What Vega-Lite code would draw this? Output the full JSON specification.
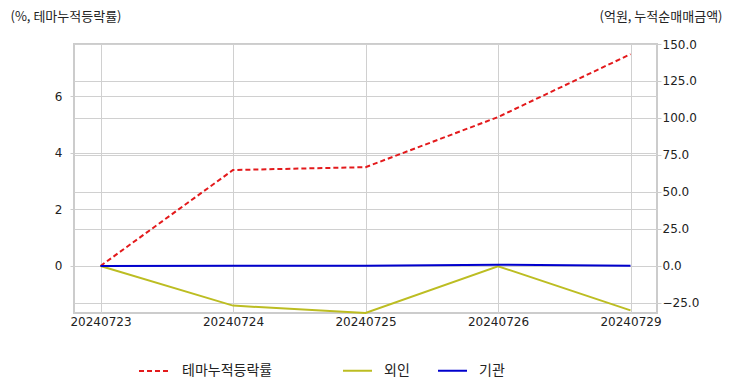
{
  "$schema": "https://vega.github.io/schema/vega-lite/v6.json",
  "autosize": {"type": "none"},
  "padding": {"left": 74, "top": 44, "right": 75, "bottom": 79},
  "width": 583,
  "height": 269,
  "background": "white",
  "config": {
    "font": "Noto Sans CJK KR",
    "view": {"stroke": "#cccccc", "strokeWidth": 2},
    "axis": {
      "labelFont": "DejaVu Sans",
      "labelFontSize": 12,
      "labelColor": "#222222",
      "gridColor": "#d0d0d0",
      "gridWidth": 1,
      "tickColor": "#cccccc",
      "domain": false,
      "titleFont": "Noto Sans CJK KR",
      "titleFontSize": 13,
      "titleFontWeight": "normal",
      "titleColor": "#222222"
    },
    "legend": {
      "labelFont": "Noto Sans CJK KR",
      "labelFontSize": 14,
      "labelColor": "#222222"
    }
  },
  "data": {
    "values": [
      {"date": "20240723", "series": "테마누적등락률", "value": 0},
      {"date": "20240724", "series": "테마누적등락률", "value": 3.39},
      {"date": "20240725", "series": "테마누적등락률", "value": 3.49},
      {"date": "20240726", "series": "테마누적등락률", "value": 5.26},
      {"date": "20240729", "series": "테마누적등락률", "value": 7.48},
      {"date": "20240723", "series": "외인", "value": 0},
      {"date": "20240724", "series": "외인", "value": -26.8},
      {"date": "20240725", "series": "외인", "value": -31.8},
      {"date": "20240726", "series": "외인", "value": -0.2},
      {"date": "20240729", "series": "외인", "value": -30.0},
      {"date": "20240723", "series": "기관", "value": 0},
      {"date": "20240724", "series": "기관", "value": 0.1},
      {"date": "20240725", "series": "기관", "value": 0.1},
      {"date": "20240726", "series": "기관", "value": 0.8},
      {"date": "20240729", "series": "기관", "value": 0.1}
    ]
  },
  "encoding": {
    "x": {
      "field": "date",
      "type": "ordinal",
      "scale": {"type": "point", "padding": 0.2},
      "axis": {
        "title": null,
        "labelAngle": 0,
        "grid": true,
        "ticks": false,
        "labelPadding": 3
      }
    }
  },
  "layer": [
    {
      "transform": [{"filter": "datum.series === '테마누적등락률'"}],
      "mark": {"type": "line", "strokeDash": [5, 3], "strokeWidth": 2},
      "encoding": {
        "y": {
          "field": "value",
          "type": "quantitative",
          "scale": {"domain": [-1.66, 7.84], "nice": false, "zero": false},
          "axis": {
            "orient": "left",
            "values": [0, 2, 4, 6],
            "grid": true,
            "tickSize": 4,
            "labelPadding": 8,
            "title": "(%, 테마누적등락률)",
            "titleAngle": 0,
            "titleAlign": "left",
            "titleBaseline": "middle",
            "titleX": -64,
            "titleY": -28
          }
        },
        "color": {
          "field": "series",
          "type": "nominal",
          "scale": {"domain": ["테마누적등락률"], "range": ["#e31a1c"]},
          "legend": {
            "title": null,
            "orient": "none",
            "direction": "horizontal",
            "legendX": 64,
            "legendY": 311,
            "symbolType": "stroke",
            "symbolSize": 900,
            "symbolStrokeWidth": 2,
            "symbolDash": [5, 3],
            "labelOffset": 12
          }
        }
      }
    },
    {
      "transform": [{"filter": "datum.series !== '테마누적등락률'"}],
      "mark": {"type": "line", "strokeWidth": 2},
      "encoding": {
        "y": {
          "field": "value",
          "type": "quantitative",
          "scale": {"domain": [-31.8, 150], "nice": false, "zero": false},
          "axis": {
            "orient": "right",
            "values": [-25, 0, 25, 50, 75, 100, 125, 150],
            "format": ".1f",
            "grid": true,
            "tickSize": 4,
            "labelPadding": 1,
            "title": "(억원, 누적순매매금액)",
            "titleAngle": 0,
            "titleAlign": "right",
            "titleBaseline": "middle",
            "titleX": 65,
            "titleY": -28
          }
        },
        "color": {
          "field": "series",
          "type": "nominal",
          "scale": {"domain": ["외인", "기관"], "range": ["#bcbd22", "#0000cd"]},
          "legend": {
            "title": null,
            "orient": "none",
            "direction": "horizontal",
            "legendX": 268,
            "legendY": 311,
            "symbolType": "stroke",
            "symbolSize": 841,
            "symbolStrokeWidth": 2,
            "labelOffset": 11,
            "columnPadding": 24
          }
        }
      }
    }
  ],
  "resolve": {"scale": {"y": "independent", "color": "independent"}}
}
